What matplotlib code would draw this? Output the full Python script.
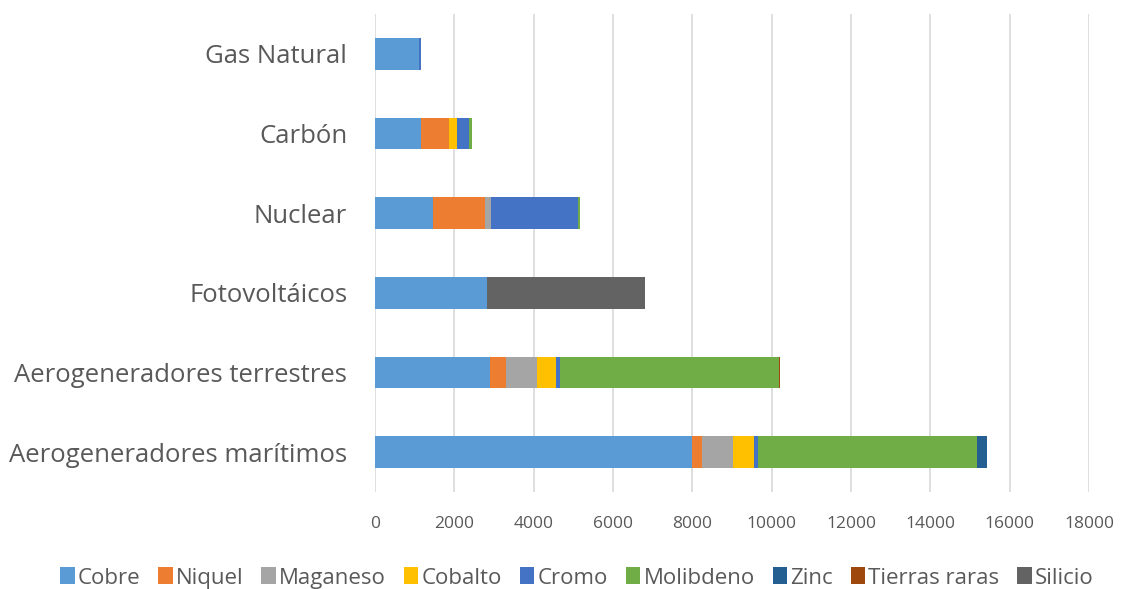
import numpy as np
import matplotlib.pyplot as plt

# tecnologías (de abajo hacia arriba)
tecnologias = ['Aerogeneradores marítimos', 'Aerogeneradores terrestres', 'Fotovoltáicos',
               'Nuclear', 'Carbón', 'Gas Natural']

minerales = ['Cobre', 'Niquel', 'Maganeso', 'Cobalto', 'Cromo', 'Molibdeno', 'Zinc',
             'Tierras raras', 'Silicio']

cobre = [8000, 2900, 2822, 1473, 1150, 1100]
niquel = [240, 400, 0, 1297, 720, 16]
maganeso = [790, 790, 0, 150, 0, 0]
cobalto = [530, 470, 0, 0, 200, 0]
cromo = [100, 100, 0, 2190, 300, 48]
molibdeno = [5520, 5530, 10, 70, 66, 0]
zinc = [240, 0, 0, 0, 0, 0]
tierras_raras = [0, 14, 0, 0, 0, 0]
silicio = [0, 0, 3980, 0, 0, 0]

series = [cobre, niquel, maganeso, cobalto, cromo, molibdeno, zinc, tierras_raras, silicio]
colores = ['#5B9BD5', '#ED7D31', '#A5A5A5', '#FFC000', '#4472C4', '#70AD47',
           '#255E91', '#9E480E', '#636363']

plt.rcParams['font.family'] = ['Open Sans', 'DejaVu Sans']
gris = '#595959'

fig = plt.figure(figsize=(11.28, 5.89), dpi=100)
ax = fig.add_axes([375 / 1128, 1 - 492 / 589, (1089 - 375) / 1128, (492 - 14) / 589])

y = np.arange(len(tecnologias))
izq = np.zeros(len(tecnologias))
for nombre, vals, c in zip(minerales, series, colores):
    vals = np.array(vals, dtype=float)
    ax.barh(y, vals, left=izq, height=0.4, color=c, label=nombre)
    izq += vals

ax.set_xlim(0, 18000)
ax.set_ylim(-0.5, len(tecnologias) - 0.5)
ax.set_xticks(np.arange(0, 18001, 2000))
ax.set_yticks(y)
ax.set_yticklabels(tecnologias, fontsize=18.5, color=gris)
ax.tick_params(axis='x', labelsize=12.5, colors=gris, length=0, pad=17)
ax.tick_params(axis='y', length=0, pad=20)
ax.grid(axis='x', color='#D9D9D9', linewidth=1.2)
ax.set_axisbelow(True)
for s in ax.spines.values():
    s.set_visible(False)

h, l = ax.get_legend_handles_labels()
fig.legend(h, l, loc='center', bbox_to_anchor=(577 / 1128, 1 - 578 / 589), ncol=9,
           frameon=False, labelcolor=gris, handlelength=0.65, handleheight=0.8,
           handletextpad=0.15, columnspacing=0.8, fontsize=16)

fig.savefig('out.png', dpi=100)
